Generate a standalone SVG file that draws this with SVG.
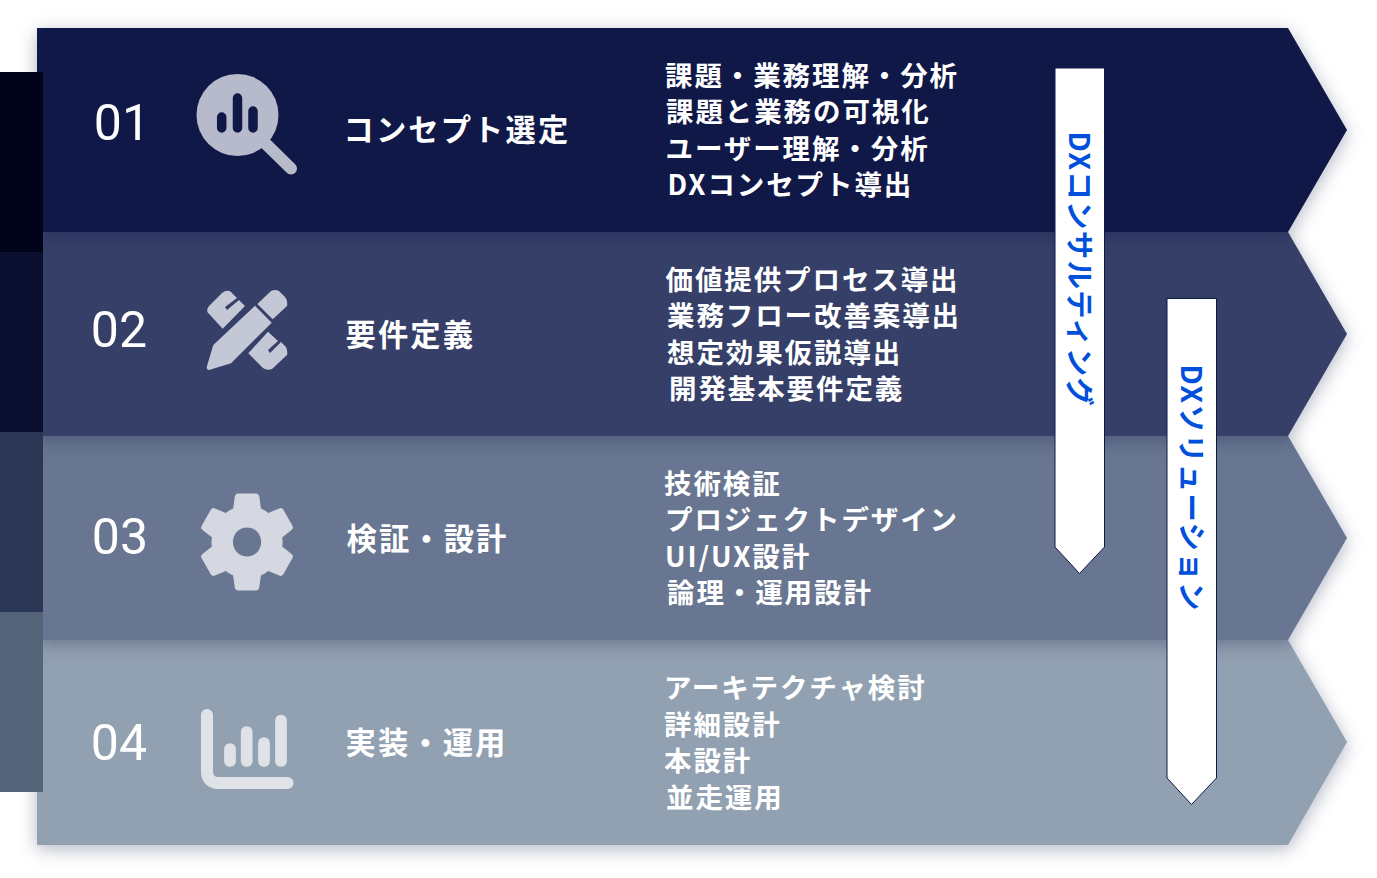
<svg xmlns="http://www.w3.org/2000/svg" width="1377" height="878" viewBox="0 0 1377 878">
<style>
text{font-family:"Noto Sans CJK JP","Noto Sans",sans-serif;font-weight:700;fill:#fff}
.num{font-family:Roboto,sans-serif;font-weight:400;font-size:50px;text-anchor:end}
.ttl{font-size:30.300px;letter-spacing:2.100px}
.li{font-size:27.500px;letter-spacing:1.900px}
.v{font-size:28.500px;fill:#0050dc;letter-spacing:1.200px}
.tab{fill:#fff;stroke:#101848;stroke-width:1}
</style>
<defs>
<filter id="sh" x="-5%" y="-30%" width="110%" height="160%" color-interpolation-filters="sRGB"><feDropShadow dx="0" dy="4" stdDeviation="9" flood-color="#101848" flood-opacity=".32"/></filter>
</defs>
<rect width="1377" height="878" fill="#fff"/>
<g id="row4"><path d="M37 640H1288L1347 742L1288 845H37Z" fill="#92a1b1" filter="url(#sh)"/></g>
<g id="row3"><path d="M37 436H1288L1347 538L1288 640H37Z" fill="#687691" filter="url(#sh)"/></g>
<g id="row2"><path d="M37 232H1288L1347 334L1288 436H37Z" fill="#363f68" filter="url(#sh)"/></g>
<g id="row1"><path d="M37 28H1288L1347 130L1288 232H37Z" fill="#101848" filter="url(#sh)"/></g>
<g id="side">
<rect x="0" y="72" width="43" height="180" fill="#000319"/>
<rect x="0" y="252" width="43" height="180" fill="#0b1030"/>
<rect x="0" y="432" width="43" height="180" fill="#2b3654"/>
<rect x="0" y="612" width="43" height="180" fill="#546579"/>
</g>
<g id="step1">
<text class="num" x="150" y="140">01</text>
<g id="icon1">
<circle fill="#b7bacb" cx="237.500" cy="115" r="41"/>
<path d="M266 144L291 168.500" stroke="#b7bacb" stroke-width="12" stroke-linecap="round" fill="none"/>
<path d="M221.700 117V128M237.500 98V128M253 111V128" stroke="#101848" stroke-width="9.500" stroke-linecap="round" fill="none"/>
</g>
<text class="ttl" x="343.500" y="141">コンセプト選定</text>
<text class="li" x="665" y="86">課題・業務理解・分析</text>
<text class="li" x="666" y="122">課題と業務の可視化</text>
<text class="li" x="665.500" y="159">ユーザー理解・分析</text>
<text class="li" x="667.500" y="195">DXコンセプト導出</text>
</g>
<g id="step2">
<text class="num" x="147" y="347">02</text>
<g id="icon2" fill="#c4c7d5">
<path d="M255 305.700L271.700 322.700L231 363.300L209 370Q206 370 207 366L213.300 345Z"/>
<path d="M257.300 304L271 291Q275 289 279 291L285 297Q288 301 287 306L272.700 319.300Z"/>
<path d="M207.300 312Q207 308 209 306L222 293Q227 289 231 292L237 298L225 307L227 310L239 300L245 306L222.700 328.700Z"/>
<path d="M248.300 353.300L268 331.700L278 341L268 350L270 353L281 342L286 347Q288 352 287 355L272 369Q267 371 263 368Z"/>
</g>
<text class="ttl" x="345.500" y="346">要件定義</text>
<text class="li" x="665.500" y="290">価値提供プロセス導出</text>
<text class="li" x="667" y="326">業務フロー改善案導出</text>
<text class="li" x="667" y="363">想定効果仮説導出</text>
<text class="li" x="669" y="399">開発基本要件定義</text>
</g>
<g id="step3">
<text class="num" x="148" y="554">03</text>
<g id="icon3" fill="#d5d8e1"><path fill-rule="evenodd" stroke="#d5d8e1" stroke-width=".2" stroke-linejoin="round" transform="translate(188.600 482) scale(4.870 5)" d="M19.140 12.940c.04-.3.06-.61.06-.94 0-.32-.02-.64-.07-.94l2.030-1.580c.18-.14.23-.41.12-.61l-1.920-3.320c-.12-.22-.37-.29-.59-.22l-2.390.96c-.5-.38-1.030-.7-1.620-.94L14.400 2.810c-.04-.24-.24-.41-.48-.41h-3.840c-.24 0-.43.17-.47.41L9.250 5.350C8.660 5.590 8.120 5.920 7.630 6.290L5.240 5.330c-.22-.08-.47 0-.59.22L2.740 8.870C2.620 9.080 2.660 9.340 2.860 9.480l2.030 1.580C4.840 11.360 4.800 11.690 4.800 12s.02.64.07.94l-2.030 1.580c-.18.14-.23.41-.12.61l1.920 3.320c.12.22.37.29.59.22l2.390-.96c.5.38 1.030.7 1.620.94l.36 2.540c.05.24.24.41.48.41h3.840c.24 0 .44-.17.47-.41l.36-2.540c.59-.24 1.130-.56 1.620-.94l2.390.96c.22.08.47 0 .59-.22l1.920-3.320c.12-.22.07-.47-.12-.61L19.140 12.940zM12 15c-1.650 0-3-1.350-3-3s1.350-3 3-3 3 1.350 3 3-1.350 3-3 3z"/></g>
<text class="ttl" x="346.500" y="550">検証・設計</text>
<text class="li" x="664" y="494">技術検証</text>
<text class="li" x="665" y="530">プロジェクトデザイン</text>
<text class="li" x="665" y="567">UI/UX設計</text>
<text class="li" x="667" y="603">論理・運用設計</text>
</g>
<g id="step4">
<text class="num" x="147" y="760">04</text>
<g id="icon4" fill="none" stroke="#dfe3e8" stroke-linecap="round">
<path d="M207 715V771Q207 783 219 783H287.500" stroke-width="12"/>
<path d="M230 749V761M246.700 732V761M264 743V761M281 720.500V761" stroke-width="11.700"/>
</g>
<text class="ttl" x="345.500" y="754">実装・運用</text>
<text class="li" x="664" y="698">アーキテクチャ検討</text>
<text class="li" x="664" y="735">詳細設計</text>
<text class="li" x="664" y="771">本設計</text>
<text class="li" x="666" y="807.500">並走運用</text>
</g>
<g id="tab1">
<path class="tab" d="M1055 68H1104.500V547L1079.500 573.500L1055 547Z"/>
<text class="v" transform="translate(1069 131.500) rotate(90)">DXコンサルティング</text>
</g>
<g id="tab2">
<path class="tab" d="M1167 298.500H1216.500V778L1191.500 804.500L1167 778Z"/>
<text class="v" transform="translate(1181 364.500) rotate(90)">DXソリューション</text>
</g>
</svg>
